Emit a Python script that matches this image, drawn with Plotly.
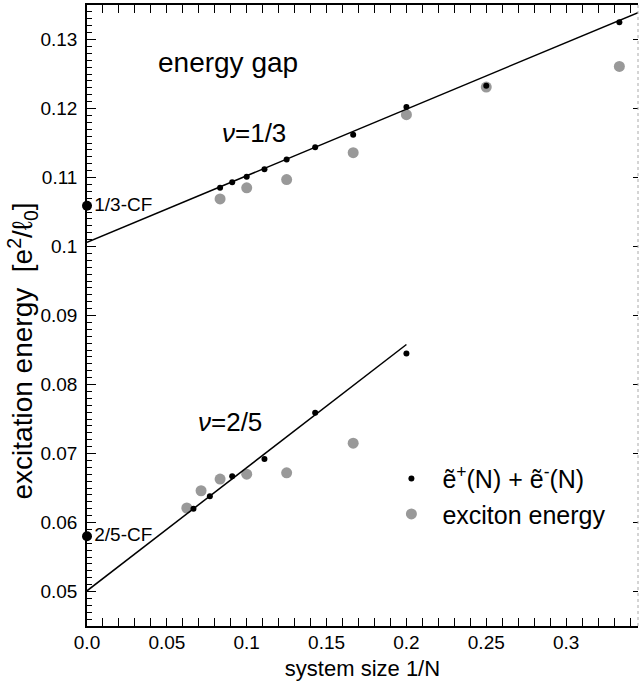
import plotly.graph_objects as go

# ---- data ----
x_13_pair = [1/12, 1/11, 1/10, 1/9, 1/8, 1/7, 1/6, 1/5, 1/4, 1/3]
y_13_pair = [0.1085, 0.1093, 0.1101, 0.1112, 0.1126, 0.1144, 0.1162, 0.1202, 0.1233, 0.1325]
x_13_exc = [1/12, 1/10, 1/8, 1/6, 1/5, 1/4, 1/3]
y_13_exc = [0.1069, 0.1085, 0.1097, 0.1136, 0.1191, 0.1231, 0.1261]

x_25_pair = [1/15, 1/13, 1/11, 1/9, 1/7, 1/5]
y_25_pair = [0.0620, 0.0638, 0.0667, 0.0692, 0.0759, 0.0845]
x_25_exc = [1/16, 1/14, 1/12, 1/10, 1/8, 1/6]
y_25_exc = [0.0621, 0.0646, 0.0663, 0.0670, 0.0672, 0.0715]

fit_13_x = [0.0, 0.345]
fit_13_y = [0.1006, 0.1339]
fit_25_x = [0.0, 0.2]
fit_25_y = [0.0501, 0.0858]

cf_x = [0.0, 0.0]
cf_y = [0.1059, 0.0580]
cf_labels = ["1/3-CF", "2/5-CF"]

x_tick_vals = [0, 0.05, 0.1, 0.15, 0.2, 0.25, 0.3]
x_tick_text = ["0.0", "0.05", "0.1", "0.15", "0.2", "0.25", "0.3"]
y_tick_vals = [0.05, 0.06, 0.07, 0.08, 0.09, 0.1, 0.11, 0.12, 0.13]
y_tick_text = ["0.05", "0.06", "0.07", "0.08", "0.09", "0.1", "0.11", "0.12", "0.13"]

FONT = "Liberation Sans, Arial, Helvetica, sans-serif"
GREY = "#999999"

fig = go.Figure()

# grey exciton points (below)
fig.add_trace(go.Scatter(x=x_13_exc, y=y_13_exc, mode="markers",
                         marker=dict(color=GREY, size=11), name="exciton energy",
                         legendgroup="exc", showlegend=False, legendrank=2))
fig.add_trace(go.Scatter(x=x_25_exc, y=y_25_exc, mode="markers",
                         marker=dict(color=GREY, size=11), name="exciton energy",
                         legendgroup="exc", showlegend=True, legendrank=2))
# fit lines
fig.add_trace(go.Scatter(x=fit_13_x, y=fit_13_y, mode="lines",
                         line=dict(color="black", width=1.5), showlegend=False, hoverinfo="skip"))
fig.add_trace(go.Scatter(x=fit_25_x, y=fit_25_y, mode="lines",
                         line=dict(color="black", width=1.5), showlegend=False, hoverinfo="skip"))
# black pair points
fig.add_trace(go.Scatter(x=x_13_pair, y=y_13_pair, mode="markers",
                         marker=dict(color="black", size=6),
                         name="ẽ<sup>+</sup>(N) + ẽ<sup>-</sup>(N)",
                         legendgroup="pair", showlegend=True, legendrank=1))
fig.add_trace(go.Scatter(x=x_25_pair, y=y_25_pair, mode="markers",
                         marker=dict(color="black", size=6),
                         legendgroup="pair", showlegend=False))
# CF points
fig.add_trace(go.Scatter(x=cf_x, y=cf_y, mode="markers+text",
                         marker=dict(color="black", size=10),
                         text=cf_labels, textposition="middle right",
                         textfont=dict(family=FONT, size=19, color="black"),
                         cliponaxis=False, showlegend=False))

# dummy trace for right axis ticks
fig.add_trace(go.Scatter(x=[None], y=[None], yaxis="y2", showlegend=False))

annots = [
    dict(x=0.0435, y=0.1266, text="energy gap", size=28),
    dict(x=0.0835, y=0.1165, text="<i>ν</i>=1/3", size=26),
    dict(x=0.0685, y=0.0745, text="<i>ν</i>=2/5", size=26),
]
for a in annots:
    fig.add_annotation(x=a["x"], y=a["y"], text=a["text"], showarrow=False,
                       xanchor="left", yanchor="middle",
                       font=dict(family=FONT, color="black", size=a["size"]))

# y-axis title
fig.add_annotation(xref="paper", yref="y", x=-0.116, y=0.0848,
                   text="excitation energy  [e<sup>2</sup>/ℓ<sub>0</sub>]",
                   textangle=-90, showarrow=False, xanchor="center", yanchor="middle",
                   font=dict(family=FONT, color="black", size=28))

# dotted right border
fig.add_shape(type="line", xref="paper", yref="paper", x0=1, x1=1, y0=0, y1=1,
              line=dict(color="#aaaaaa", width=1, dash="dot"))

fig.update_layout(
    width=642, height=683,
    margin=dict(l=87, r=4, t=5, b=57),
    paper_bgcolor="white", plot_bgcolor="white",
    font=dict(family=FONT, color="black", size=19),
    showlegend=True,
    legend=dict(x=0.5325, y=0.2742, xanchor="left", yanchor="top",
                bgcolor="rgba(0,0,0,0)", font=dict(size=25, family=FONT),
                itemwidth=52, tracegroupgap=0, traceorder="normal"),
    xaxis=dict(range=[0, 0.345], tickvals=x_tick_vals, ticktext=x_tick_text,
               ticks="inside", ticklen=8, tickwidth=1, tickcolor="black",
               showline=True, linecolor="black", linewidth=1.5, mirror="allticks",
               showgrid=False, zeroline=False, automargin=False,
               minor=dict(dtick=0.01, ticks="inside", ticklen=4, tickcolor="black", showgrid=False),
               ticklabelstandoff=-2,
               title=dict(text="system size 1/N", font=dict(size=22), standoff=9)),
    yaxis=dict(range=[0.045, 0.135], tickvals=y_tick_vals, ticktext=y_tick_text,
               ticks="inside", ticklen=9, tickwidth=1, tickcolor="black",
               showline=True, linecolor="black", linewidth=1.5,
               showgrid=False, zeroline=False, automargin=False,
               minor=dict(dtick=0.001, ticks="inside", ticklen=5, tickcolor="black", showgrid=False),
               ticklabelstandoff=4),
    yaxis2=dict(range=[0.045, 0.135], overlaying="y", side="right",
                tickvals=y_tick_vals, showticklabels=False,
                ticks="inside", ticklen=5, tickcolor="black",
                showline=False, showgrid=False, zeroline=False, automargin=False),
)

fig.write_html("out.html", config={"displayModeBar": False},
               post_script="document.body.style.margin='0';")
